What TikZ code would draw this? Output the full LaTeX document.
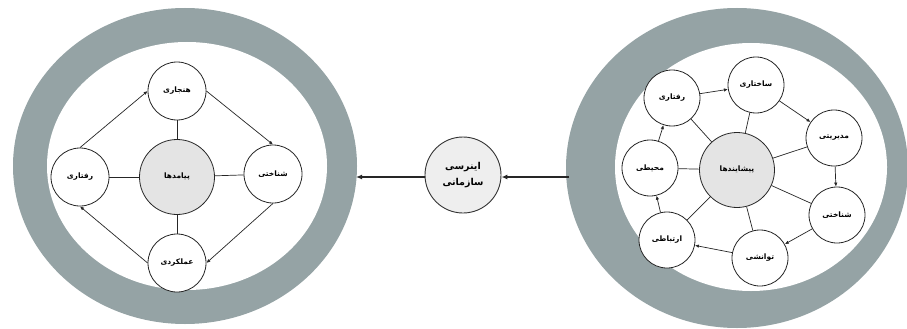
\documentclass[tikz,border=0pt]{standalone}
\usepackage{fontspec}
\newfontfamily\arabicfont[Script=Arabic]{DejaVu Sans}
\TeXXeTstate=1
\usetikzlibrary{arrows.meta}
\newcommand{\faT}[1]{{\arabicfont\bfseries\beginR #1\endR}}
\definecolor{ringgray}{HTML}{95A3A5}
\definecolor{hubgray}{HTML}{E4E4E4}
\definecolor{midgray}{HTML}{EEEEEE}
\tikzset{
  sat/.style={circle, draw=black!85, line width=0.8pt, fill=white, minimum size=56pt, inner sep=0pt, font=\fontsize{7.5}{8}\selectfont},
  hub/.style={circle, draw=black!85, line width=0.8pt, fill=hubgray, minimum size=75pt, inner sep=0pt, font=\fontsize{7.5}{8}\selectfont},
  link/.style={draw=black!85, line width=0.7pt},
  cyc/.style={draw=black!85, line width=0.7pt, -{Latex[length=4pt,width=3.4pt]}},
  big/.style={draw=black!85, line width=1.6pt, -{Latex[length=6pt,width=5pt]}}
}
\begin{document}
\begin{tikzpicture}[x=1pt,y=-1pt]
\useasboundingbox (0,0) rectangle (907,329);
\fill[white] (0,0) rectangle (907,329);
% rings
\fill[ringgray] (185,166) ellipse [x radius=172pt, y radius=158pt];
\fill[white] (187,166) ellipse [x radius=140pt, y radius=124pt];
\fill[ringgray] (737,168) ellipse [x radius=171pt, y radius=160pt];
\fill[white] (751,167) ellipse [x radius=136pt, y radius=124pt];

% left diagram
\node[hub] (LC) at (177,177) {\faT{پیامدها}};
\node[sat, minimum size=58pt] (LT) at (177,91) {\faT{هنجاری}};
\node[sat, minimum size=58pt] (LR) at (273,174) {\faT{شناختی}};
\node[sat, minimum size=58pt] (LB) at (177,263) {\faT{عملکردی}};
\node[sat, minimum size=58pt] (LL) at (80,177) {\faT{رفتاری}};
\foreach \n in {LT,LR,LB,LL} \draw[link] (LC) -- (\n);
\draw[cyc] (LL.north) -- (LT.west);
\draw[cyc] (LT.east) -- (LR.north);
\draw[cyc] (LR.south) -- (LB.east);
\draw[cyc] (LB.west) -- (LL.south);

% right diagram
\node[hub] (RC) at (737,170) {\faT{پیشایندها}};
\node[sat] (R1) at (672,98) {\faT{رفتاری}};
\node[sat] (R2) at (756,85) {\faT{ساختاری}};
\node[sat] (R3) at (834,138) {\faT{مدیریتی}};
\node[sat] (R4) at (837,215) {\faT{شناختی}};
\node[sat] (R5) at (760,258) {\faT{توانشی}};
\node[sat] (R6) at (667,240) {\faT{ارتباطی}};
\node[sat] (R7) at (650,168) {\faT{محیطی}};
\foreach \n in {R1,R2,R3,R4,R5,R6,R7} \draw[link] (RC) -- (\n);
\draw[cyc] (R1) -- (R2);
\draw[cyc] (R2) -- (R3);
\draw[cyc] (R3) -- (R4);
\draw[cyc] (R4) -- (R5);
\draw[cyc] (R5) -- (R6);
\draw[cyc] (R6) -- (R7);
\draw[cyc] (R7) -- (R1);

% middle
\node[circle, draw=black!80, line width=0.9pt, fill=midgray, minimum size=76pt, inner sep=0pt, align=center, font=\fontsize{9.5}{16}\selectfont] (M) at (463,175) {\faT{اینرسی}\\\faT{سازمانی}};
\coordinate (rs) at (569,177);
\coordinate (le) at (356,177);
\draw[big] (rs) -- (M.east |- rs);
\draw[big] (M.west |- le) -- (le);
\end{tikzpicture}
\end{document}
